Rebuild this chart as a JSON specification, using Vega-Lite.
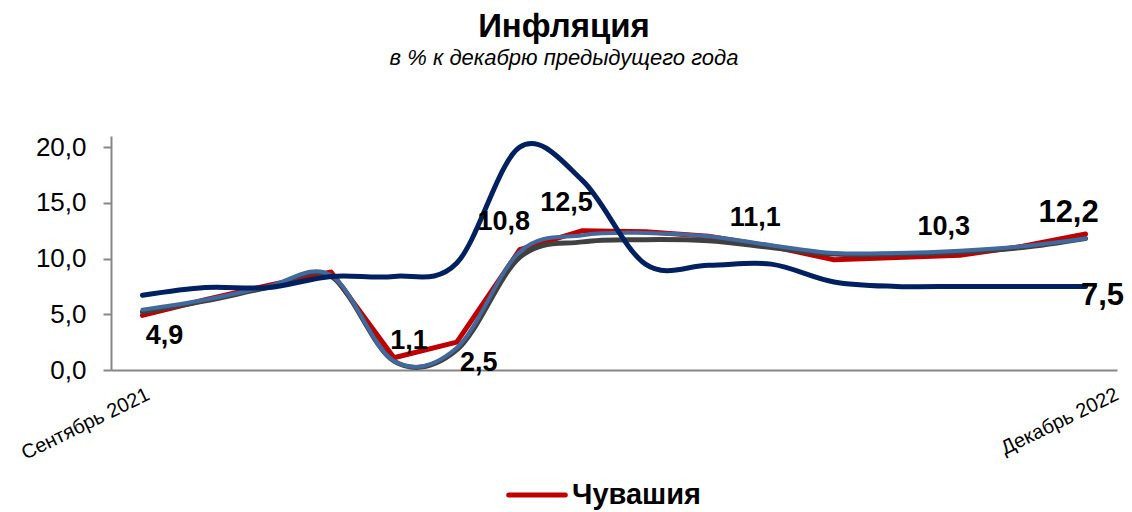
{
  "$schema": "https://vega.github.io/schema/vega-lite/v6.json",
  "width": 1006,
  "height": 234,
  "autosize": {"type": "none"},
  "padding": {"left": 111, "top": 136, "right": 15, "bottom": 142},
  "title": {
    "text": "Инфляция",
    "subtitle": "в  % к декабрю  предыдущего года",
    "anchor": "middle",
    "frame": "group",
    "dx": -50,
    "offset": 64,
    "font": "Liberation Sans",
    "fontSize": 33,
    "fontWeight": "bold",
    "color": "black",
    "subtitleFont": "Liberation Sans",
    "subtitleFontSize": 22,
    "subtitleFontStyle": "italic",
    "subtitleColor": "black",
    "subtitlePadding": 4
  },
  "config": {
    "view": {"stroke": null},
    "font": "Liberation Sans",
    "locale": {"number": {"decimal": ",", "thousands": " ", "grouping": [3], "currency": ["", ""]}}
  },
  "data": {
    "values": [
      {"month": "Сентябрь 2021", "series": "Чувашия", "value": 4.9},
      {"month": "Октябрь 2021", "series": "Чувашия", "value": 6.3},
      {"month": "Ноябрь 2021", "series": "Чувашия", "value": 7.6},
      {"month": "Декабрь 2021", "series": "Чувашия", "value": 8.8},
      {"month": "Январь 2022", "series": "Чувашия", "value": 1.1},
      {"month": "Февраль 2022", "series": "Чувашия", "value": 2.5},
      {"month": "Март 2022", "series": "Чувашия", "value": 10.8},
      {"month": "Апрель 2022", "series": "Чувашия", "value": 12.5},
      {"month": "Май 2022", "series": "Чувашия", "value": 12.4},
      {"month": "Июнь 2022", "series": "Чувашия", "value": 12.0},
      {"month": "Июль 2022", "series": "Чувашия", "value": 11.1},
      {"month": "Август 2022", "series": "Чувашия", "value": 9.9},
      {"month": "Сентябрь 2022", "series": "Чувашия", "value": 10.1},
      {"month": "Октябрь 2022", "series": "Чувашия", "value": 10.3},
      {"month": "Ноябрь 2022", "series": "Чувашия", "value": 11.1},
      {"month": "Декабрь 2022", "series": "Чувашия", "value": 12.2},

      {"month": "Сентябрь 2021", "series": "Россия", "value": 5.2},
      {"month": "Октябрь 2021", "series": "Россия", "value": 6.2},
      {"month": "Ноябрь 2021", "series": "Россия", "value": 7.4},
      {"month": "Декабрь 2021", "series": "Россия", "value": 8.4},
      {"month": "Январь 2022", "series": "Россия", "value": 0.8},
      {"month": "Февраль 2022", "series": "Россия", "value": 1.8},
      {"month": "Март 2022", "series": "Россия", "value": 10.1},
      {"month": "Апрель 2022", "series": "Россия", "value": 11.5},
      {"month": "Май 2022", "series": "Россия", "value": 11.7},
      {"month": "Июнь 2022", "series": "Россия", "value": 11.6},
      {"month": "Июль 2022", "series": "Россия", "value": 11.0},
      {"month": "Август 2022", "series": "Россия", "value": 10.4},
      {"month": "Сентябрь 2022", "series": "Россия", "value": 10.4},
      {"month": "Октябрь 2022", "series": "Россия", "value": 10.6},
      {"month": "Ноябрь 2022", "series": "Россия", "value": 11.0},
      {"month": "Декабрь 2022", "series": "Россия", "value": 11.8},

      {"month": "Сентябрь 2021", "series": "ПФО", "value": 5.4},
      {"month": "Октябрь 2021", "series": "ПФО", "value": 6.3},
      {"month": "Ноябрь 2021", "series": "ПФО", "value": 7.5},
      {"month": "Декабрь 2021", "series": "ПФО", "value": 8.5},
      {"month": "Январь 2022", "series": "ПФО", "value": 0.8},
      {"month": "Февраль 2022", "series": "ПФО", "value": 2.0},
      {"month": "Март 2022", "series": "ПФО", "value": 10.6},
      {"month": "Апрель 2022", "series": "ПФО", "value": 12.1},
      {"month": "Май 2022", "series": "ПФО", "value": 12.3},
      {"month": "Июнь 2022", "series": "ПФО", "value": 12.0},
      {"month": "Июль 2022", "series": "ПФО", "value": 11.2},
      {"month": "Август 2022", "series": "ПФО", "value": 10.5},
      {"month": "Сентябрь 2022", "series": "ПФО", "value": 10.5},
      {"month": "Октябрь 2022", "series": "ПФО", "value": 10.7},
      {"month": "Ноябрь 2022", "series": "ПФО", "value": 11.1},
      {"month": "Декабрь 2022", "series": "ПФО", "value": 11.8},

      {"month": "Сентябрь 2021", "series": "Ключевая ставка", "value": 6.7},
      {"month": "Октябрь 2021", "series": "Ключевая ставка", "value": 7.4},
      {"month": "Ноябрь 2021", "series": "Ключевая ставка", "value": 7.4},
      {"month": "Декабрь 2021", "series": "Ключевая ставка", "value": 8.4},
      {"month": "Январь 2022", "series": "Ключевая ставка", "value": 8.4},
      {"month": "Февраль 2022", "series": "Ключевая ставка", "value": 9.6},
      {"month": "Март 2022", "series": "Ключевая ставка", "value": 20.0},
      {"month": "Апрель 2022", "series": "Ключевая ставка", "value": 17.0},
      {"month": "Май 2022", "series": "Ключевая ставка", "value": 9.5},
      {"month": "Июнь 2022", "series": "Ключевая ставка", "value": 9.4},
      {"month": "Июль 2022", "series": "Ключевая ставка", "value": 9.5},
      {"month": "Август 2022", "series": "Ключевая ставка", "value": 7.9},
      {"month": "Сентябрь 2022", "series": "Ключевая ставка", "value": 7.5},
      {"month": "Октябрь 2022", "series": "Ключевая ставка", "value": 7.5},
      {"month": "Ноябрь 2022", "series": "Ключевая ставка", "value": 7.5},
      {"month": "Декабрь 2022", "series": "Ключевая ставка", "value": 7.5}
    ]
  },
  "encoding": {
    "x": {
      "field": "month",
      "type": "ordinal",
      "sort": ["Сентябрь 2021", "Октябрь 2021", "Ноябрь 2021", "Декабрь 2021", "Январь 2022", "Февраль 2022", "Март 2022", "Апрель 2022", "Май 2022", "Июнь 2022", "Июль 2022", "Август 2022", "Сентябрь 2022", "Октябрь 2022", "Ноябрь 2022", "Декабрь 2022"],
      "scale": {"type": "point", "padding": 0.5},
      "axis": {
        "title": null,
        "labelExpr": "datum.value === 'Сентябрь 2021' || datum.value === 'Декабрь 2022' ? datum.label : ''",
        "labelAngle": -26,
        "labelAlign": "right",
        "labelBaseline": "top",
        "labelFont": "Liberation Sans",
        "labelFontSize": 20,
        "labelColor": "black",
        "labelPadding": 14,
        "labelOverlap": false,
        "labelFlush": false,
        "labelBound": false,
        "labelOffset": {"condition": {"test": "datum.value === 'Декабрь 2022'", "value": 27}, "value": 1},
        "ticks": false,
        "tickSize": 0,
        "domainColor": "#868686",
        "domainWidth": 2,
        "grid": false
      }
    },
    "y": {
      "field": "value",
      "type": "quantitative",
      "scale": {"domain": [0, 21], "nice": false, "zero": true},
      "axis": {
        "title": null,
        "values": [0, 5, 10, 15, 20],
        "format": ".1f",
        "labelFont": "Liberation Sans",
        "labelFontSize": 26,
        "labelColor": "black",
        "labelPadding": 17,
        "tickSize": 8,
        "tickWidth": 2,
        "tickColor": "#868686",
        "domainColor": "#868686",
        "domainWidth": 2,
        "grid": false
      }
    }
  },
  "layer": [
    {
      "transform": [{"filter": "datum.series === 'Чувашия'"}],
      "mark": {"type": "line", "interpolate": "linear", "strokeWidth": 5, "strokeCap": "round", "strokeJoin": "round"},
      "encoding": {
        "color": {
          "field": "series", "type": "nominal",
          "scale": {"domain": ["Чувашия", "Россия", "ПФО", "Ключевая ставка"], "range": ["#C00000", "#404040", "#41699E", "#002060"]},
          "legend": {
            "values": ["Чувашия"],
            "title": null,
            "orient": "none",
            "legendX": 395,
            "legendY": 328,
            "padding": 0,
            "symbolType": "stroke",
            "symbolSize": 3200,
            "symbolStrokeWidth": 5,
            "labelFont": "Liberation Sans",
            "labelFontSize": 29,
            "labelFontWeight": "bold",
            "labelColor": "black",
            "labelOffset": 4,
            "encode": {"symbols": {"update": {"strokeCap": {"value": "round"}}}}
          }
        }
      }
    },
    {
      "transform": [{"filter": "datum.series === 'Россия'"}],
      "mark": {"type": "line", "interpolate": "cardinal", "strokeWidth": 5, "strokeCap": "round"},
      "encoding": {
        "color": {
          "field": "series", "type": "nominal",
          "scale": {"domain": ["Чувашия", "Россия", "ПФО", "Ключевая ставка"], "range": ["#C00000", "#404040", "#41699E", "#002060"]}
        }
      }
    },
    {
      "transform": [{"filter": "datum.series === 'ПФО'"}],
      "mark": {"type": "line", "interpolate": "cardinal", "strokeWidth": 4, "strokeCap": "round"},
      "encoding": {
        "color": {
          "field": "series", "type": "nominal",
          "scale": {"domain": ["Чувашия", "Россия", "ПФО", "Ключевая ставка"], "range": ["#C00000", "#404040", "#41699E", "#002060"]}
        }
      }
    },
    {
      "transform": [{"filter": "datum.series === 'Ключевая ставка'"}],
      "mark": {"type": "line", "interpolate": "cardinal", "strokeWidth": 5, "strokeCap": "round"},
      "encoding": {
        "color": {
          "field": "series", "type": "nominal",
          "scale": {"domain": ["Чувашия", "Россия", "ПФО", "Ключевая ставка"], "range": ["#C00000", "#404040", "#41699E", "#002060"]}
        }
      }
    },
    {
      "transform": [{"filter": "datum.series === 'Чувашия' && indexof(['Март 2022','Апрель 2022','Июль 2022','Октябрь 2022'], datum.month) >= 0"}],
      "mark": {"type": "text", "font": "Liberation Sans", "fontWeight": "bold", "fontSize": 27, "color": "black", "align": "center", "baseline": "middle", "dx": -16, "dy": -28},
      "encoding": {"text": {"field": "value", "type": "quantitative", "format": ".1f"}}
    },
    {
      "transform": [{"filter": "datum.series === 'Чувашия' && datum.month === 'Декабрь 2022'"}],
      "mark": {"type": "text", "font": "Liberation Sans", "fontWeight": "bold", "fontSize": 31, "color": "black", "align": "center", "baseline": "middle", "dx": -17, "dy": -21},
      "encoding": {"text": {"field": "value", "type": "quantitative", "format": ".1f"}}
    },
    {
      "transform": [{"filter": "datum.series === 'Чувашия' && (datum.month === 'Сентябрь 2021' || datum.month === 'Февраль 2022')"}],
      "mark": {"type": "text", "font": "Liberation Sans", "fontWeight": "bold", "fontSize": 27, "color": "black", "align": "center", "baseline": "middle", "dx": 22, "dy": 21},
      "encoding": {"text": {"field": "value", "type": "quantitative", "format": ".1f"}}
    },
    {
      "transform": [{"filter": "datum.series === 'Чувашия' && datum.month === 'Январь 2022'"}],
      "mark": {"type": "text", "font": "Liberation Sans", "fontWeight": "bold", "fontSize": 27, "color": "black", "align": "center", "baseline": "middle", "dx": 15, "dy": -17},
      "encoding": {"text": {"field": "value", "type": "quantitative", "format": ".1f"}}
    },
    {
      "transform": [{"filter": "datum.series === 'Ключевая ставка' && datum.month === 'Декабрь 2022'"}],
      "mark": {"type": "text", "font": "Liberation Sans", "fontWeight": "bold", "fontSize": 31, "color": "black", "align": "center", "baseline": "middle", "dx": 17, "dy": 10},
      "encoding": {"text": {"field": "value", "type": "quantitative", "format": ".1f"}}
    }
  ]
}
